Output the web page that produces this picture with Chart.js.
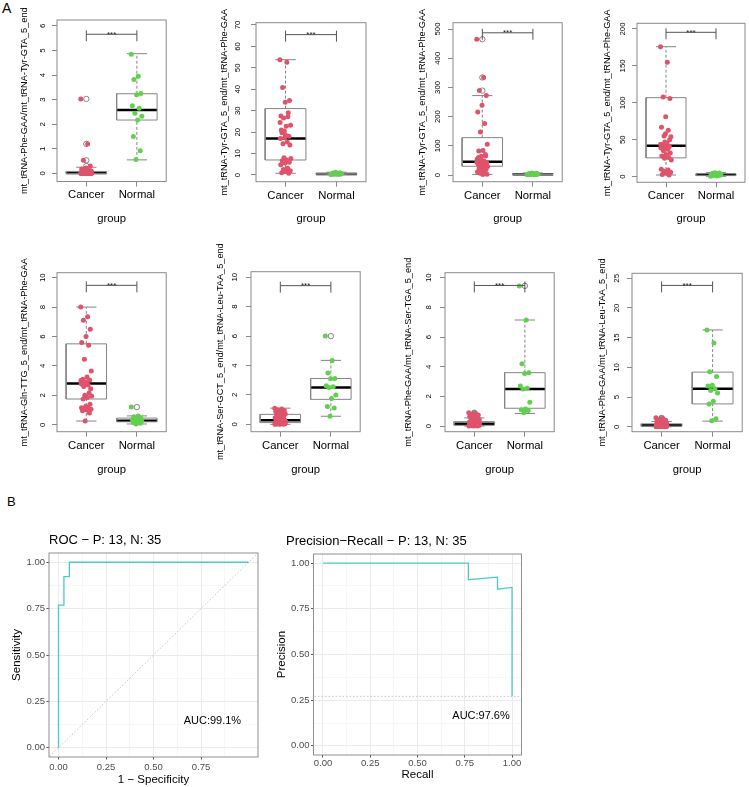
<!DOCTYPE html>
<html><head><meta charset="utf-8">
<script src="https://cdn.jsdelivr.net/npm/chart.js@4/dist/chart.umd.min.js"></script>
<style>
html,body{margin:0;padding:0;background:#fff;}
body{width:749px;height:787px;position:relative;overflow:hidden;}
.pn{position:absolute;}
.lab{position:absolute;font-family:'Liberation Sans',Arial,sans-serif;color:#000;line-height:1;}
</style></head><body>
<div class="lab" style="left:2px;top:1px;font-size:14px;">A</div>
<div class="lab" style="left:7px;top:495px;font-size:13px;">B</div>
<script>
// ---------- DATA ----------
const groups = ['Cancer', 'Normal'];
const yTitles = [
  'mt_tRNA-Phe-GAA/mt_tRNA-Tyr-GTA_5_end',
  'mt_tRNA-Tyr-GTA_5_end/mt_tRNA-Phe-GAA',
  'mt_tRNA-Tyr-GTA_5_end/mt_tRNA-Phe-GAA',
  'mt_tRNA-Tyr-GTA_5_end/mt_tRNA-Phe-GAA',
  'mt_tRNA-Gln-TTG_5_end/mt_tRNA-Phe-GAA',
  'mt_tRNA-Ser-GCT_5_end/mt_tRNA-Leu-TAA_5_end',
  'mt_tRNA-Phe-GAA/mt_tRNA-Ser-TGA_5_end',
  'mt_tRNA-Phe-GAA/mt_tRNA-Leu-TAA_5_end'
];
const xTitle = 'group';
const sigLabel = '***';
const sigY = [5.66, 65.5, 487, 195.5, 9.48, 9.43, 9.48, 23.8];

// panel 1
const p1Cancer = [3.03,1.2,0.53,0.3,0.22,0.18,0.15,0.12,0.1,0.09,0.08,0.07,0.06,0.05,0.05,0.04,0.03,0.03,0.02,0.02,0.02,0.01,0.01,0.01,0.01,0,0,0,0,0,0,0,0,0,0];
const p1Normal = [4.85,3.95,3.82,3.25,3.2,2.75,2.65,2.45,2.32,2.17,1.5,0.92,0.57];
const p1CancerBox = [0, 0, 0.02, 0.08, 0.25];
const p1NormalBox = [0.55, 2.17, 2.58, 3.24, 4.87];
const p1Ticks = [0,1,2,3,4,5,6];
// panel 2
const p2Cancer = [53.8,52.6,40.8,34.8,34.0,27.5,27.2,26.6,23.2,22.8,19.7,18.1,17.4,17.0,15.4,14.6,14.0,18.5,21.0,29.0,8.1,7.7,7.0,6.6,6.0,5.6,4.8,3.2,2.6,2.0,1.6,1.0,0.8,20.5,24.5];
const p2Normal = [0.2,0.3,0.3,0.4,0.4,0.5,0.5,0.6,0.7,0.8,0.9,1.0,1.3];
const p2CancerBox = [0.8, 7.0, 17.0, 31.0, 53.8];
const p2NormalBox = [0.2, 0.35, 0.5, 0.75, 1.3];
const p2Ticks = [0,10,20,30,40,50,60,70];
// panel 3
const p3Cancer = [465,334,289,272,239,216,176,147,105,84,82,65,64,54,48,45,42,40,38,34,30,29,25,23,19,15,11,8,6,3,2,60,70,52,44];
const p3Normal = [0.5,1,1.5,2,2,2.5,3,3,3.5,4,5,6,7];
const p3CancerBox = [2, 30, 45, 128, 272];
const p3NormalBox = [0.5, 1.5, 2.5, 4, 7];
const p3Ticks = [0,100,200,300,400,500];
// panel 4
const p4Cancer = [176,155,108,106,81,67,63,55,54,42,41,41,40,39,37,35,32,30,28,26,25,22.6,45,43,50,58,10,9,7.7,6,4.5,3,2.3,47,44];
const p4Normal = [0.5,1,1.5,2,2,2.5,3,3,3.5,4,4.5,5,5.5];
const p4CancerBox = [2.3, 25.5, 42, 107, 176];
const p4NormalBox = [0.5, 1.5, 2.5, 4, 5.5];
const p4Ticks = [0,50,100,150,200];
// panel 5
const p5Cancer = [8.0,7.35,7.1,6.5,6.0,5.6,5.4,4.45,3.65,3.25,3.1,3.05,2.85,2.8,2.7,2.6,2.45,2.9,2.75,2.15,2.0,1.95,1.85,1.75,1.4,1.25,1.15,1.12,1.1,1.05,1.0,0.95,0.8,0.25,3.0];
const p5Normal = [1.2,0.6,0.55,0.45,0.4,0.35,0.3,0.27,0.25,0.2,0.15,0.1,0.05];
const p5CancerBox = [0.25, 1.75, 2.8, 5.5, 8.0];
const p5NormalBox = [0.05, 0.2, 0.27, 0.45, 0.6];
const p5Ticks = [0,2,4,6,8,10];
// panel 6
const p6Cancer = [1.1,1.05,1.0,0.95,0.9,0.85,0.8,0.75,0.7,0.65,0.6,0.55,0.5,0.45,0.4,0.35,0.3,0.28,0.25,0.22,0.2,0.18,0.15,0.13,0.12,0.1,0.08,0.06,0.05,0.04,0.03,0.02,0.01,0,0];
const p6Normal = [6.0,4.35,3.5,3.12,3.1,2.62,2.55,2.5,2.0,1.75,1.22,1.12,0.55];
const p6CancerBox = [0, 0.12, 0.28, 0.68, 1.1];
const p6NormalBox = [0.55, 1.7, 2.5, 3.12, 4.35];
const p6Ticks = [0,2,4,6,8,10];
// panel 7
const p7Cancer = [0.9,0.85,0.8,0.75,0.7,0.65,0.6,0.5,0.45,0.4,0.35,0.3,0.28,0.25,0.22,0.2,0.18,0.16,0.15,0.14,0.12,0.1,0.09,0.08,0.07,0.06,0.05,0.05,0.04,0.03,0.02,0.02,0.01,0,0];
const p7Normal = [9.45,7.15,4.2,3.6,3.55,2.7,2.55,2.5,1.6,1.15,1.1,1.05,0.9];
const p7CancerBox = [0, 0.05, 0.15, 0.3, 0.55];
const p7NormalBox = [0.85, 1.2, 2.5, 3.6, 7.15];
const p7Ticks = [0,2,4,6,8,10];
// panel 8
const p8Cancer = [1.5,1.35,1.2,1.1,1.0,0.9,0.8,0.7,0.65,0.6,0.55,0.5,0.45,0.4,0.35,0.3,0.28,0.25,0.22,0.2,0.18,0.15,0.13,0.12,0.1,0.09,0.08,0.06,0.05,0.04,0.03,0.02,0.01,0,0];
const p8Normal = [16.3,14.1,9.25,8.45,7.0,6.85,6.4,6.1,5.7,4.3,3.85,1.35,1.0];
const p8CancerBox = [0, 0.1, 0.25, 0.5, 0.9];
const p8NormalBox = [0.95, 3.85, 6.4, 9.2, 16.3];
const p8Ticks = [0,5,10,15,20,25];

// ROC / PR
const rocFpr = [0, 0, 0.0286, 0.0286, 0.0571, 0.0571, 1.0];
const rocTpr = [0, 0.769, 0.769, 0.923, 0.923, 1.0, 1.0];
const prRecall = [0, 0.769, 0.769, 0.846, 0.923, 0.923, 1.0, 1.0];
const prPrecision = [1.0, 1.0, 0.909, 0.917, 0.923, 0.857, 0.867, 0.271];
const prBaseline = [0.271];
const rocTitle = 'ROC \u2212 P: 13, N: 35';
const prTitle = 'Precision\u2212Recall \u2212 P: 13, N: 35';
const rocAxisTitles = ['1 \u2212 Specificity', 'Sensitivity'];
const prAxisTitles = ['Recall', 'Precision'];
const aucLabels = ['AUC:99.1%', 'AUC:97.6%'];
const aucPos = [[0.81, 0.145], [0.836, 0.164]];
const rocXTicks = [0, 0.125, 0.25, 0.375, 0.5, 0.625, 0.75, 0.875];
const prXTicks = [0, 0.125, 0.25, 0.375, 0.5, 0.625, 0.75, 0.875, 1.0];
const ggYTicks = [0, 0.125, 0.25, 0.375, 0.5, 0.625, 0.75, 0.875, 1.0];
const majorTicks = [0, 0.25, 0.5, 0.75, 1.0];

// ---------- LAYOUT / STYLE ----------
const FONT = "'Liberation Sans', Arial, sans-serif";
const RED = '#DF536B', GREEN = '#61D04F';
const boxLayout = [
 {l:57, t:20, r:167, b:181.5, yMin:-0.33, yMax:6.24, titleX:25, tickX:43, labY:219},
 {l:256, t:22.7, r:366, b:181.7, yMin:-3.13, yMax:71.07, titleX:225, tickX:238, labY:219},
 {l:453, t:22.7, r:563, b:181.7, yMin:-22.9, yMax:521.6, titleX:423, tickX:438, labY:219},
 {l:637, t:23.3, r:747.5, b:182.3, yMin:-7.6, yMax:207.7, titleX:608, tickX:623, labY:219},
 {l:57, t:272.7, r:167, b:431.7, yMin:-0.475, yMax:10.34, titleX:25, tickX:43, labY:470},
 {l:251, t:271.7, r:361, b:431.7, yMin:-0.5, yMax:10.38, titleX:221, tickX:235, labY:470},
 {l:445, t:272.7, r:555, b:431.7, yMin:-0.38, yMax:10.34, titleX:409, tickX:429, labY:470},
 {l:632, t:273.3, r:743, b:431.7, yMin:-0.83, yMax:25.84, titleX:603, tickX:617, labY:470}
];
const panels = [
 [p1Cancer, p1Normal, p1CancerBox, p1NormalBox, p1Ticks],
 [p2Cancer, p2Normal, p2CancerBox, p2NormalBox, p2Ticks],
 [p3Cancer, p3Normal, p3CancerBox, p3NormalBox, p3Ticks],
 [p4Cancer, p4Normal, p4CancerBox, p4NormalBox, p4Ticks],
 [p5Cancer, p5Normal, p5CancerBox, p5NormalBox, p5Ticks],
 [p6Cancer, p6Normal, p6CancerBox, p6NormalBox, p6Ticks],
 [p7Cancer, p7Normal, p7CancerBox, p7NormalBox, p7Ticks],
 [p8Cancer, p8Normal, p8CancerBox, p8NormalBox, p8Ticks]
];

const mctx = document.createElement('canvas').getContext('2d');
function measure(text, size) { mctx.font = size + 'px ' + FONT; return mctx.measureText(text).width; }
const jit = i => (((i * 0.6180339887) % 1) - 0.5) * 0.22;

const framePlugin = {
  id: 'frame',
  afterDatasetsDraw(chart, args, opts) {
    const a = chart.chartArea, ctx = chart.ctx;
    ctx.save(); ctx.strokeStyle = opts.color || '#888'; ctx.lineWidth = 1;
    ctx.strokeRect(a.left, a.top, a.right - a.left, a.bottom - a.top); ctx.restore();
  }
};
const bracketPlugin = {
  id: 'bracket',
  afterDatasetsDraw(chart, args, opts) {
    if (opts.y == null) return;
    const ctx = chart.ctx, x = chart.scales.x, y = chart.scales.y;
    const yy = y.getPixelForValue(opts.y), x1 = x.getPixelForValue(1), x2 = x.getPixelForValue(2);
    ctx.save(); ctx.strokeStyle = '#555'; ctx.lineWidth = 1; ctx.beginPath();
    ctx.moveTo(x1, yy); ctx.lineTo(x2, yy);
    ctx.moveTo(x1, yy - 4); ctx.lineTo(x1, yy + 7);
    ctx.moveTo(x2, yy - 4); ctx.lineTo(x2, yy + 7);
    ctx.stroke();
    ctx.fillStyle = '#222'; ctx.font = '8px ' + FONT; ctx.textAlign = 'center'; ctx.textBaseline = 'alphabetic';
    ctx.fillText(opts.text, (x1 + x2) / 2, yy + 2.5);
    ctx.restore();
  }
};
const aucPlugin = {
  id: 'auc',
  afterDatasetsDraw(chart, args, opts) {
    if (!opts.text) return;
    const ctx = chart.ctx;
    const px = chart.scales.x.getPixelForValue(opts.pos[0]), py = chart.scales.y.getPixelForValue(opts.pos[1]);
    ctx.save(); ctx.fillStyle = '#000'; ctx.font = '11px ' + FONT; ctx.textAlign = 'center'; ctx.textBaseline = 'middle';
    ctx.fillText(opts.text, px, py); ctx.restore();
  }
};

function makeCanvas(left, top, width, height) {
  const div = document.createElement('div'); div.className = 'pn';
  div.style.left = left + 'px'; div.style.top = top + 'px';
  div.style.width = width + 'px'; div.style.height = height + 'px';
  const cv = document.createElement('canvas');
  cv.width = width; cv.height = height; cv.style.width = width + 'px'; cv.style.height = height + 'px';
  div.appendChild(cv); document.body.appendChild(div);
  return cv;
}

function boxParts(c, s) {
  const [lo, q1, med, q3, hi] = s, w = 0.4, sw = 0.2;
  const seg = (pts, extra) => Object.assign({ data: pts, showLine: true, pointRadius: 0, borderColor: '#858585', borderWidth: 1, order: 3, tension: 0 }, extra || {});
  return [
    seg([{x:c-w,y:q1},{x:c+w,y:q1},{x:c+w,y:q3},{x:c-w,y:q3},{x:c-w,y:q1}]),
    seg([{x:c,y:q3},{x:c,y:hi}], { borderDash: [3, 2] }),
    seg([{x:c,y:lo},{x:c,y:q1}], { borderDash: [3, 2] }),
    seg([{x:c-sw,y:hi},{x:c+sw,y:hi}]),
    seg([{x:c-sw,y:lo},{x:c+sw,y:lo}]),
    seg([{x:c-w,y:med},{x:c+w,y:med}], { borderColor: '#000', borderWidth: 2.5 })
  ];
}

function boxChart(idx) {
  const L = boxLayout[idx];
  const [cancer, normal, cBox, nBox, yTicks] = panels[idx];
  const tfs = 9.2, lfs = 11.3, kfs = 7.8, tl = 5;
  const cLeft = Math.round(L.titleX - tfs * 1.2 / 2);
  const cTop = Math.max(0, Math.round(L.t - (idx < 4 ? 20 : 30)));
  const cRight = Math.min(749, Math.round(L.r + 4));
  const cBottom = Math.round(L.labY + lfs * 1.2 / 2);
  const cv = makeCanvas(cLeft, cTop, cRight - cLeft, cBottom - cTop);
  const yW = L.l - cLeft, xH = cBottom - L.b;
  const widest = Math.max(...yTicks.map(v => measure(String(v), kfs)));
  const yPad = L.l - L.tickX - tl - widest / 2;
  const datasets = [];
  [[1, cancer, cBox, RED], [2, normal, nBox, GREEN]].forEach(([c, vals, s, col]) => {
    boxParts(c, s).forEach(d => datasets.push(d));
    datasets.push({ data: vals.filter(v => v > s[4] || v < s[0]).map(v => ({ x: c, y: v })),
      pointRadius: 2.7, pointBorderColor: '#666', pointBackgroundColor: 'rgba(0,0,0,0)', pointBorderWidth: 0.8, order: 2 });
    datasets.push({ data: vals.map((v, i) => ({ x: c + jit(i), y: v })),
      pointRadius: 2.5, pointBackgroundColor: col, pointBorderWidth: 0, order: 1 });
  });
  new Chart(cv, {
    type: 'scatter',
    data: { datasets },
    plugins: [framePlugin, bracketPlugin],
    options: {
      responsive: false, animation: false, events: [],
      layout: { padding: { top: L.t - cTop, right: cRight - L.r, left: 0, bottom: 0 } },
      plugins: { legend: { display: false }, tooltip: { enabled: false },
        frame: { color: '#8a8a8a' }, bracket: { y: sigY[idx], text: sigLabel } },
      scales: {
        x: { type: 'linear', min: 0.42, max: 2.58,
          afterBuildTicks: s => { s.ticks = [1, 2].map(v => ({ value: v })); },
          afterFit: s => { s.height = xH; },
          ticks: { autoSkip: false, maxRotation: 0, minRotation: 0, padding: 2, color: '#000',
            font: { family: FONT, size: lfs }, callback: v => groups[Math.round(v) - 1] },
          grid: { drawOnChartArea: false, drawTicks: true, tickLength: tl, color: '#8a8a8a' },
          border: { display: false },
          title: { display: true, text: xTitle, color: '#000', font: { family: FONT, size: lfs }, padding: 0 } },
        y: { type: 'linear', min: L.yMin, max: L.yMax,
          afterBuildTicks: s => { s.ticks = yTicks.map(v => ({ value: v })); },
          afterFit: s => { s.width = yW; },
          ticks: { autoSkip: false, minRotation: 90, maxRotation: 90, crossAlign: 'center', padding: yPad,
            color: '#000', font: { family: FONT, size: kfs }, callback: v => String(v) },
          grid: { drawOnChartArea: false, drawTicks: true, tickLength: tl, color: '#8a8a8a' },
          border: { display: false },
          title: { display: true, text: yTitles[idx], color: '#000', font: { family: FONT, size: tfs }, padding: 0 } }
      }
    }
  });
}
for (let i = 0; i < 8; i++) boxChart(i);

// ---------- ggplot-style ROC / PR ----------
const isMajor = v => majorTicks.some(m => Math.abs(m - v) < 1e-9);
function ggChart(cfg) {
  const cv = makeCanvas(cfg.cLeft, cfg.cTop, cfg.cRight - cfg.cLeft, cfg.cBottom - cfg.cTop);
  const gridOpts = {
    drawOnChartArea: true, drawTicks: true, tickLength: 2.5,
    color: ctx => isMajor(ctx.tick.value) ? '#EBEBEB' : '#F2F2F2',
    lineWidth: ctx => isMajor(ctx.tick.value) ? 1 : 0.6,
    tickColor: ctx => isMajor(ctx.tick.value) ? '#555' : 'rgba(0,0,0,0)'
  };
  new Chart(cv, {
    type: 'scatter',
    data: { datasets: cfg.datasets },
    plugins: [framePlugin, aucPlugin],
    options: {
      responsive: false, animation: false, events: [],
      layout: { padding: { top: 0, left: cfg.padLeft, bottom: 0, right: cfg.cRight - cfg.pr } },
      plugins: { legend: { display: false }, tooltip: { enabled: false },
        frame: { color: '#8f8f8f' }, auc: { text: cfg.auc, pos: cfg.aucPos },
        title: { display: true, text: cfg.title, align: 'start', fullSize: cfg.fullTitle, color: '#000',
          font: { family: FONT, size: 13, weight: 'normal' }, padding: { top: cfg.tPadTop, bottom: cfg.tPadBottom } } },
      scales: {
        x: { type: 'linear', min: -0.05, max: 1.05,
          afterBuildTicks: s => { s.ticks = cfg.xTicks.map(v => ({ value: v })); },
          afterFit: s => { s.height = cfg.cBottom - cfg.pb; },
          ticks: { autoSkip: false, maxRotation: 0, padding: cfg.xPad, color: '#4D4D4D', font: { family: FONT, size: 9.5 },
            callback: v => isMajor(v) ? v.toFixed(2) : '' },
          grid: gridOpts, border: { display: false },
          title: { display: true, text: cfg.axisTitles[0], color: '#000', font: { family: FONT, size: 11.5 }, padding: 0 } },
        y: { type: 'linear', min: -0.05, max: 1.05,
          afterBuildTicks: s => { s.ticks = ggYTicks.map(v => ({ value: v })); },
          afterFit: s => { s.width = cfg.pl - cfg.cLeft - cfg.padLeft; },
          ticks: { autoSkip: false, padding: 1.5, color: '#4D4D4D', font: { family: FONT, size: 9.5 },
            callback: v => isMajor(v) ? v.toFixed(2) : '' },
          grid: gridOpts, border: { display: false },
          title: { display: true, text: cfg.axisTitles[1], color: '#000', font: { family: FONT, size: 11.5 }, padding: { top: cfg.yTitlePad } } }
      }
    }
  });
}
const CYAN = '#4CCACA';
ggChart({
  cLeft: 0, cTop: 520, cRight: 266, cBottom: 787, pl: 49, pr: 258, pb: 757, padLeft: 0,
  title: rocTitle, fullTitle: false, tPadTop: 12.2, tPadBottom: 5.2,
  xTicks: rocXTicks, xPad: 1.8, yTitlePad: 9.8, axisTitles: rocAxisTitles,
  auc: aucLabels[0], aucPos: aucPos[0],
  datasets: [
    { data: [{x:-0.1,y:-0.1},{x:1.1,y:1.1}], showLine: true, pointRadius: 0, borderColor: '#C4C4C4', borderWidth: 1, borderDash: [1.5, 2], order: 2 },
    { data: rocFpr.map((v, i) => ({ x: v, y: rocTpr[i] })), showLine: true, pointRadius: 0, borderColor: CYAN, borderWidth: 1.3, tension: 0, order: 1 }
  ]
});
ggChart({
  cLeft: 274, cTop: 520, cRight: 530, cBottom: 782, pl: 313.5, pr: 521.5, pb: 755, padLeft: 12,
  title: prTitle, fullTitle: true, tPadTop: 13.9, tPadBottom: 4.5,
  xTicks: prXTicks, xPad: 0.1, yTitlePad: -10.9, axisTitles: prAxisTitles,
  auc: aucLabels[1], aucPos: aucPos[1],
  datasets: [
    { data: [{x:-0.1,y:prBaseline[0]},{x:1.1,y:prBaseline[0]}], showLine: true, pointRadius: 0, borderColor: '#C4C4C4', borderWidth: 1, borderDash: [1.5, 2], order: 2 },
    { data: prRecall.map((v, i) => ({ x: v, y: prPrecision[i] })), showLine: true, pointRadius: 0, borderColor: CYAN, borderWidth: 1.3, tension: 0, order: 1 }
  ]
});
</script>
</body></html>
